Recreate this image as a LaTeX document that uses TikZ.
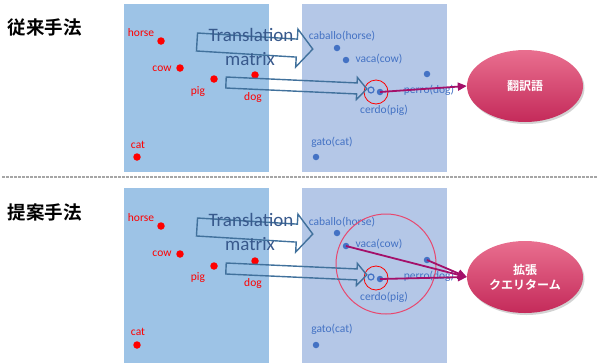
\documentclass[tikz,border=0pt]{standalone}
\usepackage{fontspec}
\setmainfont{Carlito}
\newfontfamily\jp{Noto Sans CJK JP}[BoldFont={Noto Sans CJK JP Bold}]
\usetikzlibrary{shapes.geometric,shadows,arrows.meta}

\definecolor{srcfill}{HTML}{9DC3E6}
\definecolor{tgtfill}{HTML}{B4C7E7}
\definecolor{srcred}{HTML}{FF0000}
\definecolor{tgtblue}{HTML}{4472C4}
\definecolor{arrowblue}{HTML}{41719C}
\definecolor{mattxt}{HTML}{38598C}
\definecolor{linkpurple}{HTML}{A4106A}
\definecolor{ringpink}{HTML}{E8476E}
\definecolor{elltop}{HTML}{E96F8F}
\definecolor{ellbot}{HTML}{C42A5A}
\definecolor{sepgray}{HTML}{A6A6A6}

\tikzset{
  srcdot/.style={circle, fill=srcred, inner sep=0pt, minimum size=7.5pt},
  tgtdot/.style={circle, fill=tgtblue, inner sep=0pt, minimum size=6.5pt},
  mapdot/.style={circle, draw=tgtblue, line width=1.2pt, inner sep=0pt, minimum size=6pt},
  srclbl/.style={text=srcred, font=\fontsize{11.5}{13}\selectfont, inner sep=0pt},
  tgtlbl/.style={text=tgtblue, font=\fontsize{11.5}{13}\selectfont, inner sep=0pt},
  heading/.style={font=\jp\bfseries\fontsize{18.5}{20}\selectfont, inner sep=0pt},
  blockarrow/.style={draw=arrowblue, line width=1.4pt, line join=miter},
  mattext/.style={text=mattxt, font=\fontsize{19}{21}\selectfont, inner sep=0pt},
  link/.style={draw=linkpurple, line width=1.8pt, -{Triangle[length=9pt,width=8pt]}},
  result/.style={ellipse, minimum width=116pt, minimum height=72pt, inner sep=0pt,
    top color=elltop, bottom color=ellbot, draw=none,
    drop shadow={shadow xshift=1.5pt, shadow yshift=-2pt, opacity=0.35},
    text=white, align=center, font=\jp\bfseries\fontsize{12}{15}\selectfont},
}

\begin{document}
\begin{tikzpicture}[x=1pt, y=-1pt]
\useasboundingbox (0,0) rectangle (600,362);

% separator between the two methods
\draw[sepgray, line width=1.5pt, dash pattern=on 2.5pt off 1.5pt] (2,177) -- (598,177);

% ---------------- conventional method ----------------
\node[heading] (titleA) at (45,27) {従来手法};
\fill[srcfill] (124,4) rectangle (269,172);
\fill[tgtfill] (302,4) rectangle (447,172);

\node[srclbl] (horseA) at (141,33) {horse};
\node[srcdot] (horseDotA) at (161,41) {};
\node[srclbl] (cowA) at (162,69) {cow};
\node[srcdot] (cowDotA) at (180,68) {};
\node[srclbl] (pigA) at (198,92) {pig};
\node[srcdot] (pigDotA) at (214,79) {};
\node[srclbl] (dogA) at (253,97) {dog};
\node[srcdot] (dogDotA) at (255,75) {};
\node[srclbl] (catA) at (138,145) {cat};
\node[srcdot] (catDotA) at (137,157) {};

\node[tgtlbl] (caballoA) at (342,36) {caballo(horse)};
\node[tgtdot] (caballoDotA) at (337,48) {};
\node[tgtlbl] (vacaA) at (379,59) {vaca(cow)};
\node[tgtdot] (vacaDotA) at (346,60) {};
\node[tgtlbl] (perroA) at (429,90) {perro(dog)};
\node[tgtdot] (perroDotA) at (427,74) {};
\node[tgtlbl] (cerdoA) at (384,110) {cerdo(pig)};
\node[tgtdot] (cerdoDotA) at (380,92) {};
\node[mapdot] (mappedA) at (371,90) {};
\node[tgtlbl] (gatoA) at (332,142) {gato(cat)};
\node[tgtdot] (gatoDotA) at (316,157) {};

\draw[srcred, line width=0.8pt] (376,92) circle[radius=12];

\begin{scope}[shift={(197,42)}, rotate=-3.5]
  \draw[blockarrow] (0,-9) -- (100,-9) -- (100,-19) -- (116,0) -- (100,19) -- (100,9) -- (0,9) -- cycle;
\end{scope}
\begin{scope}[shift={(226,82.5)}, rotate=-2.6]
  \draw[blockarrow] (0,-5.5) -- (131,-5.5) -- (131,-11) -- (141,0) -- (131,11) -- (131,5.5) -- (0,5.5) -- cycle;
\end{scope}
\node[mattext] (transA) at (251,35) {Translation};
\node[mattext] (matA) at (250,59) {matrix};

\node[result] (outA) at (525,86) {翻訳語};
\draw[link] (cerdoDotA.center) -- (outA.west);

% ---------------- proposed method ----------------
\node[heading] (titleB) at (45,212) {提案手法};
\begin{scope}[shift={(0,185)}]
\fill[srcfill] (124,3) rectangle (269,180);
\fill[tgtfill] (302,3) rectangle (447,180);

\node[srclbl] (horseB) at (141,33) {horse};
\node[srcdot] (horseDotB) at (161,41) {};
\node[srclbl] (cowB) at (162,69) {cow};
\node[srcdot] (cowDotB) at (180,69) {};
\node[srclbl] (pigB) at (198,93) {pig};
\node[srcdot] (pigDotB) at (214,81) {};
\node[srclbl] (dogB) at (253,98) {dog};
\node[srcdot] (dogDotB) at (255,76) {};
\node[srclbl] (catB) at (138,147) {cat};
\node[srcdot] (catDotB) at (137,160) {};

\node[tgtlbl] (caballoB) at (342,37) {caballo(horse)};
\node[tgtdot] (caballoDotB) at (337,48) {};
\node[tgtlbl] (vacaB) at (379,59) {vaca(cow)};
\node[tgtdot] (vacaDotB) at (346,61) {};
\node[tgtlbl] (perroB) at (429,91) {perro(dog)};
\node[tgtdot] (perroDotB) at (427,75) {};
\node[tgtlbl] (cerdoB) at (384,112) {cerdo(pig)};
\node[tgtdot] (cerdoDotB) at (380,94) {};
\node[mapdot] (mappedB) at (371,92) {};
\node[tgtlbl] (gatoB) at (332,144) {gato(cat)};
\node[tgtdot] (gatoDotB) at (316,160) {};

\draw[srcred, line width=0.8pt] (376,93) circle[radius=12];
\draw[ringpink, line width=1pt] (386,79) circle[radius=50];

\begin{scope}[shift={(197,42)}, rotate=-3.5]
  \draw[blockarrow] (0,-9) -- (100,-9) -- (100,-19) -- (116,0) -- (100,19) -- (100,9) -- (0,9) -- cycle;
\end{scope}
\begin{scope}[shift={(226,83.5)}, rotate=-2.6]
  \draw[blockarrow] (0,-5.5) -- (131,-5.5) -- (131,-11) -- (141,0) -- (131,11) -- (131,5.5) -- (0,5.5) -- cycle;
\end{scope}
\node[mattext] (transB) at (251,35) {Translation};
\node[mattext] (matB) at (250,59) {matrix};

\node[result] (outB) at (525,92) {拡張\\クエリターム};
\draw[link] (vacaDotB.center) -- (outB.west);
\draw[link] (perroDotB.center) -- (outB.west);
\draw[link] (cerdoDotB.center) -- (outB.west);
\end{scope}
\end{tikzpicture}
\end{document}
